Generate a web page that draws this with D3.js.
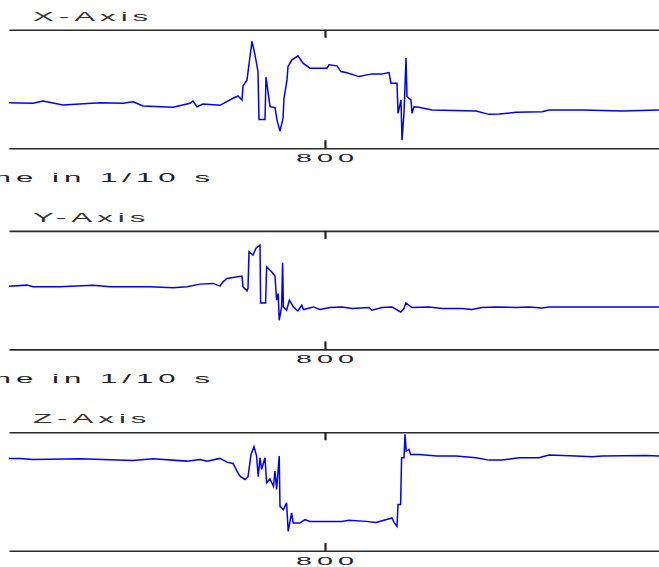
<!DOCTYPE html>
<html><head><meta charset="utf-8">
<script src="https://cdn.jsdelivr.net/npm/d3@7"></script>
<style>
html,body{margin:0;padding:0;background:#fff;}
svg{display:block;}
text{font-family:"Liberation Sans",Arial,sans-serif;fill:#222;}
</style></head>
<body>
<svg id="chart" width="659" height="567"></svg>
<script>
// ---- data (time in 1/10 s, sensor value in arbitrary units) ----
const panelTitles = ["X-Axis", "Y-Axis", "Z-Axis"];
const xTickValues = [800];
const timeLabel = "Time in 1/10 s";

const xAxisData = [[10,45.3],[70,44.7],[95,47],[145,43],[237.5,45.3],[295,44.7],[320,46.3],[345,42],[420,40.7],[462.5,44.7],[470,47],[480,41.3],[495,44],[537.5,42.7],[570,49.7],[582.5,52],[592.5,48],[595,62],[605,68],[612.5,91.3],[617.5,106.3],[625,93],[632.5,76.3],[635,28.7],[650,28.7],[652.5,70.7],[657.5,56.3],[662.5,41.3],[675,40.3],[680,28],[687.5,17],[695,29.7],[697.5,49.7],[705,68],[707.5,81.3],[717.5,88],[732.5,92],[745,84.7],[762.5,79.7],[805,79.7],[810,83],[830,82],[840,76.3],[852.5,75.3],[885,71.3],[917.5,74],[942.5,74],[960,75.3],[965,64.7],[980,64.7],[982.5,34.7],[990,48],[992.5,8],[997.5,35],[1002.5,89.7],[1005,51.3],[1015,48],[1017.5,34.7],[1022.5,41.3],[1035,40.7],[1067.5,38],[1177.5,37],[1210,33.7],[1235,34],[1277.5,35.7],[1342.5,36.3],[1360,38],[1442.5,38],[1542.5,37],[1635,38]];

const yAxisData = [[10,63],[55,64],[70,62.3],[137.5,62.3],[220,64],[262.5,62.3],[362.5,62.3],[420,61.3],[455,62.3],[487.5,65],[520,65.7],[537.5,63],[545,67.3],[555,70.7],[592.5,73],[595,62.3],[605,58.3],[607.5,60.7],[610,97.3],[620,94],[627.5,100.7],[637.5,104],[639,46.3],[651.5,46.3],[654,82.3],[666.5,77.3],[675,73],[679,49],[683,55.7],[685.5,29],[691.5,42.3],[694,86.3],[696,42.3],[704,39],[711,49],[721,42.3],[732,38.3],[742,44],[746,39.7],[771,42.3],[787.5,39.7],[812.5,41.7],[842.5,42.3],[867.5,40.7],[910,41.7],[917.5,39],[942.5,41.7],[967.5,42.3],[989,37.3],[997.5,40.7],[1002,46.3],[1017.5,41.7],[1060,42.3],[1092.5,40.7],[1142.5,40.7],[1167.5,39.7],[1192.5,41.7],[1227.5,42.3],[1277.5,41.7],[1310,42.3],[1342.5,41.3],[1360,42.3],[1635,42.3]];

const zAxisData = [[10,92],[37.5,92],[70,91],[187.5,91.7],[320,90],[370,91.7],[455,89.3],[487.5,91],[505,89.3],[537.5,92],[555,88.3],[570,87],[580,79.3],[587.5,74.3],[600,71],[607.5,73.7],[615,96],[622.5,103.7],[629,94.3],[633,73.7],[637.5,92.7],[641.5,81],[650,92.7],[654,67.7],[662.5,71.7],[671,64.3],[675,79.3],[679,61],[685.5,94.3],[687.5,44.3],[696,41],[704,47.7],[708,19.3],[716.5,37.7],[720.5,27.7],[737.5,27.7],[750,31],[762.5,29.3],[812.5,29.3],[842.5,29.3],[860,30.3],[902.5,29.3],[927.5,28.3],[967.5,32.7],[972.5,28.3],[980,24.3],[982.5,46],[989,46],[991.5,92.7],[997.5,92.7],[1000,116],[1003,99.3],[1010,101],[1014,96],[1035,96],[1080,94.3],[1127.5,94.3],[1177.5,92.7],[1210,90.3],[1242.5,90.3],[1285,92.7],[1335,92.7],[1360,95.3],[1427.5,94.3],[1467.5,93.7],[1492.5,94.3],[1602.5,95],[1635,94.3]];

const seriesList = [xAxisData, yAxisData, zAxisData];
const timeDomain = [10, 1635];
const valueDomain = [0, 118];

// ---- layout ----
const svg = d3.select("#chart");
const panelTops = [29.7, 230.9, 432.3];
const panelH = 118.5;
const x = d3.scaleLinear().domain(timeDomain).range([9, 659]);
const SX = 2.5, LS = 2.0;

function stretchedText(g, str, px, py, anchor, size) {
  return g.append("text")
    .attr("transform", `translate(${px},${py}) scale(${SX},1)`)
    .attr("text-anchor", anchor)
    .style("font-size", (size || 12) + "px")
    .style("letter-spacing", LS + "px")
    .text(str);
}

seriesList.forEach((data, i) => {
  const top = panelTops[i];
  const g = svg.append("g");
  const y = d3.scaleLinear().domain(valueDomain).range([top + panelH, top]);

  // title
  stretchedText(g, panelTitles[i], 33, top - 9, "start", 12.5).style("fill", "#333");

  // top axis
  const topAx = g.append("g").attr("transform", `translate(0,${top})`)
    .call(d3.axisTop(x).tickValues(xTickValues).tickSizeInner(-8).tickSizeOuter(0).tickFormat(""));
  // bottom axis
  const botAx = g.append("g").attr("transform", `translate(0,${top + panelH})`)
    .call(d3.axisBottom(x).tickValues(xTickValues).tickSizeInner(-8).tickSizeOuter(0).tickFormat(""));
  [topAx, botAx].forEach(a => {
    a.select(".domain").attr("stroke", "#2a2a2a").attr("stroke-width", 1.6);
    a.selectAll(".tick line").attr("stroke", "#222").attr("stroke-width", 2.2);
  });

  // tick label
  xTickValues.forEach(v => {
    stretchedText(g, String(v), x(v) + LS * SX / 2, top + panelH + 14, "middle", 11.5);
  });

  // time label
  if (i < 2) {
    stretchedText(g, timeLabel, 215, top + panelH + 33.5, "end", 12.5);
  }

  // data line
  const line = d3.line().x(d => x(d[0])).y(d => y(d[1]));
  g.append("path").datum(data)
    .attr("d", line)
    .attr("fill", "none")
    .attr("stroke", "#0000ff")
    .attr("stroke-width", 1.5)
    .attr("stroke-linejoin", "miter");
});
</script>
</body></html>
